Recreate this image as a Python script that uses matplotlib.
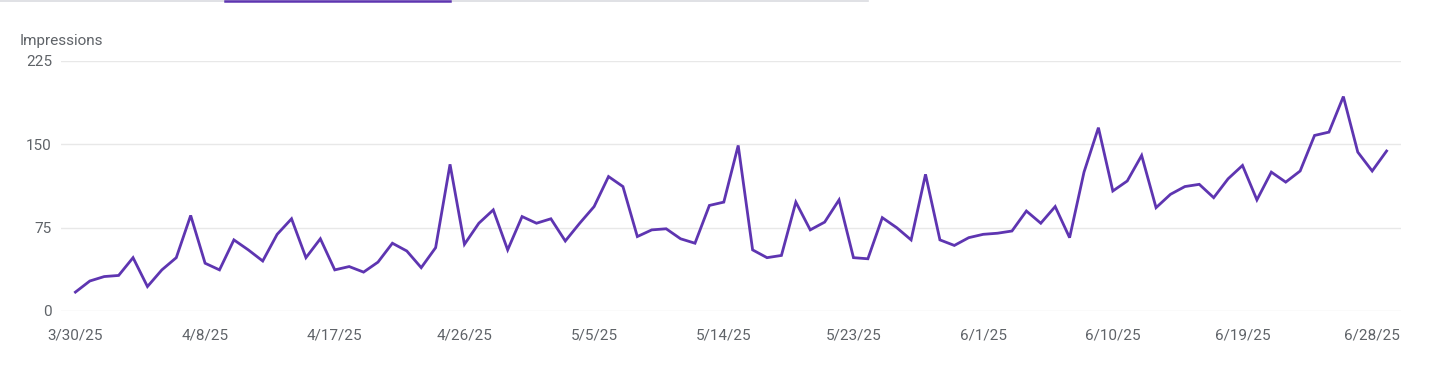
import datetime as dt
import matplotlib.pyplot as plt
import matplotlib.dates as mdates
from matplotlib.lines import Line2D

plt.rcParams['font.family'] = ['Roboto', 'DejaVu Sans']

# daily impressions, 3/30/25 .. 6/29/25
start = dt.date(2025, 3, 30)
impressions = [
    17, 27, 31, 32, 48, 22, 37, 48, 86, 43, 37, 64, 55, 45, 69, 83, 48, 65,
    37, 40, 35, 44, 61, 54, 39, 57, 132, 60, 79, 91, 55, 85, 79, 83, 63, 79,
    94, 121, 112, 67, 73, 74, 65, 61, 95, 98, 149, 55, 48, 50, 98, 73, 80, 100,
    48, 47, 84, 75, 64, 123, 64, 59, 66, 69, 70, 72, 90, 79, 94, 66, 125, 165,
    108, 117, 140, 93, 105, 112, 114, 102, 119, 131, 100, 125, 116, 126, 158, 161,
    193, 143, 126, 144,
]
dates = [start + dt.timedelta(days=i) for i in range(len(impressions))]
tick_dates = dates[::9]
y_ticks = [0, 75, 150, 225]

text_col = '#5f6368'
line_col = '#5e35b1'

W, H = 1433, 369
fig = plt.figure(figsize=(W / 100, H / 100), dpi=100)
left, right, top, bottom = 61, 1401, 61, 311
ax = fig.add_axes([left / W, 1 - bottom / H, (right - left) / W, (bottom - top) / H])

ax.plot(dates, impressions, color=line_col, linewidth=2.0, solid_joinstyle='miter', clip_on=False)

pad = dt.timedelta(days=1.11)
ax.set_xlim(dates[0] - pad, dates[-1] + pad)
ax.set_ylim(0, 225)
ax.set_yticks(y_ticks)
ax.set_xticks(tick_dates)
ax.xaxis.set_major_formatter(mdates.DateFormatter('%-m/%-d/%y'))
ax.grid(axis='y', color='#e8e8e8', linewidth=1)
ax.set_axisbelow(True)
for s in ax.spines.values():
    s.set_visible(False)
ax.tick_params(axis='both', length=0, colors=text_col, labelsize=11)
ax.tick_params(axis='y', pad=6.5)
ax.tick_params(axis='x', pad=12.5)

fig.text(20 / W, 1 - 45 / H, 'Impressions', color=text_col, fontsize=11, ha='left', va='baseline')

# tab strip at the top
fig.add_artist(Line2D([0, 868 / W], [1 - 0.8 / H] * 2, color='#dadce0', linewidth=1.2))
fig.add_artist(Line2D([225 / W, 450 / W], [1 - 1 / H] * 2, color=line_col, linewidth=1.8))

fig.savefig('out.png', dpi=100)
